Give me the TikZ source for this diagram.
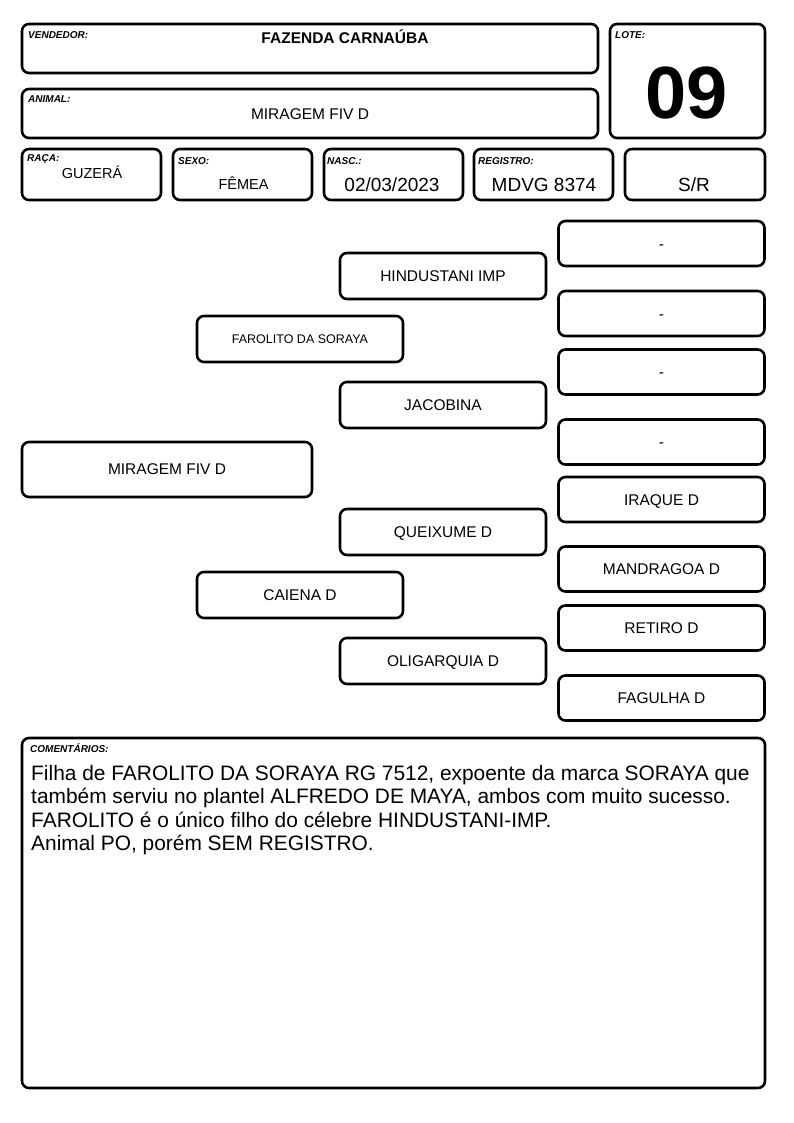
\documentclass[tikz,border=0pt]{standalone}
\usepackage{fontspec}
\setmainfont{Liberation Sans}
\usepackage{tikz}
\tikzset{
  card/.style={draw=black, line width=2.6pt, rounded corners=7pt, inner sep=0pt},
  field/.style={anchor=base west, inner sep=0pt, font=\fontsize{10}{12}\selectfont\bfseries\itshape},
  val/.style={anchor=base, inner sep=0pt, font=\fontsize{15}{18}\selectfont},
  bigval/.style={anchor=base, inner sep=0pt, font=\fontsize{19}{22}\selectfont},
  ped/.style={card, minimum width=206pt, minimum height=46pt, text height=11.1pt, text depth=0pt, font=\fontsize{15.5}{18}\selectfont},
  anc/.style={ped, minimum height=45pt},
}

\begin{document}
\begin{tikzpicture}[x=1pt, y=-1pt]
  \useasboundingbox[fill=white] (0,0) rectangle (794,1123);

  % header
  \node[card, minimum width=576pt, minimum height=49pt] (vend) at (310,48.5) {};
  \node[field] (vendlbl) at (28,39) {VENDEDOR:};
  \node[val, font=\fontsize{15.5}{18}\selectfont\bfseries] (vendval) at (345,43.5) {FAZENDA CARNAÚBA};

  \node[card, minimum width=576pt, minimum height=49pt] (anim) at (310,113.5) {};
  \node[field] (animlbl) at (28,103) {ANIMAL:};
  \node[val, font=\fontsize{15.5}{18}\selectfont] (animval) at (310,119.3) {MIRAGEM FIV D};

  \node[card, minimum width=155pt, minimum height=114pt] (lote) at (687.5,81) {};
  \node[field] (lotelbl) at (615,39) {LOTE:};
  \node[anchor=base, inner sep=0pt, font=\fontsize{74}{80}\selectfont\bfseries] (loteval) at (686.5,119) {09};

  \node[card, minimum width=139pt, minimum height=51pt] (raca) at (91.5,174.5) {};
  \node[field] (racalbl) at (27,162) {RAÇA:};
  \node[val, font=\fontsize{14.5}{17}\selectfont] (racaval) at (92,178.3) {GUZERÁ};

  \node[card, minimum width=139pt, minimum height=51pt] (sexo) at (242.5,174.5) {};
  \node[field] (sexolbl) at (178,165) {SEXO:};
  \node[val, font=\fontsize{14.5}{17}\selectfont] (sexoval) at (243.5,189.3) {FÊMEA};

  \node[card, minimum width=139pt, minimum height=51pt] (nasc) at (393.5,174.5) {};
  \node[field] (nasclbl) at (327,165) {NASC.:};
  \node[bigval] (nascval) at (392,191.7) {02/03/2023};

  \node[card, minimum width=139pt, minimum height=51pt] (reg) at (543.5,174.5) {};
  \node[field] (reglbl) at (478,165) {REGISTRO:};
  \node[bigval] (regval) at (544,192) {MDVG 8374};

  \node[card, minimum width=140pt, minimum height=51pt] (sr) at (695,174.5) {};
  \node[bigval] (srval) at (694,192) {S/R};

  % pedigree
  \node[card, minimum width=290pt, minimum height=55pt, font=\fontsize{15.5}{18}\selectfont] (animal) at (167,469.5) {MIRAGEM FIV D};

  \node[ped, text height=9pt, font=\fontsize{12.5}{15}\selectfont] (pai) at (300,339) {FAROLITO DA SORAYA};
  \node[ped] (mae) at (300,595) {CAIENA D};

  \node[ped] (avop) at (443,276) {HINDUSTANI IMP};
  \node[ped] (avap) at (443,405) {JACOBINA};
  \node[ped] (avom) at (443,532) {QUEIXUME D};
  \node[ped] (avam) at (443,661) {OLIGARQUIA D};

  \node[anc] (bis1) at (661.5,243.5) {-};
  \node[anc] (bis2) at (661.5,313.5) {-};
  \node[anc] (bis3) at (661.5,372) {-};
  \node[anc] (bis4) at (661.5,442) {-};
  \node[anc] (bis5) at (661.5,499.5) {IRAQUE D};
  \node[anc] (bis6) at (661.5,569) {MANDRAGOA D};
  \node[anc] (bis7) at (661.5,628) {RETIRO D};
  \node[anc] (bis8) at (661.5,698) {FAGULHA D};

  % comentarios
  \node[card, minimum width=743pt, minimum height=350pt] (coment) at (393.5,913) {};
  \node[field] (comentlbl) at (30,752.5) {COMENTÁRIOS:};
  \node[anchor=north west, inner sep=0pt, align=left, font=\fontsize{20.9}{23.4}\selectfont] (comenttxt) at (31,765)
    {Filha de FAROLITO DA SORAYA RG 7512, expoente da marca SORAYA que\\
     também serviu no plantel ALFREDO DE MAYA, ambos com muito sucesso.\\
     FAROLITO é o único filho do célebre HINDUSTANI-IMP.\\
     Animal PO, porém SEM REGISTRO.};
\end{tikzpicture}
\end{document}
